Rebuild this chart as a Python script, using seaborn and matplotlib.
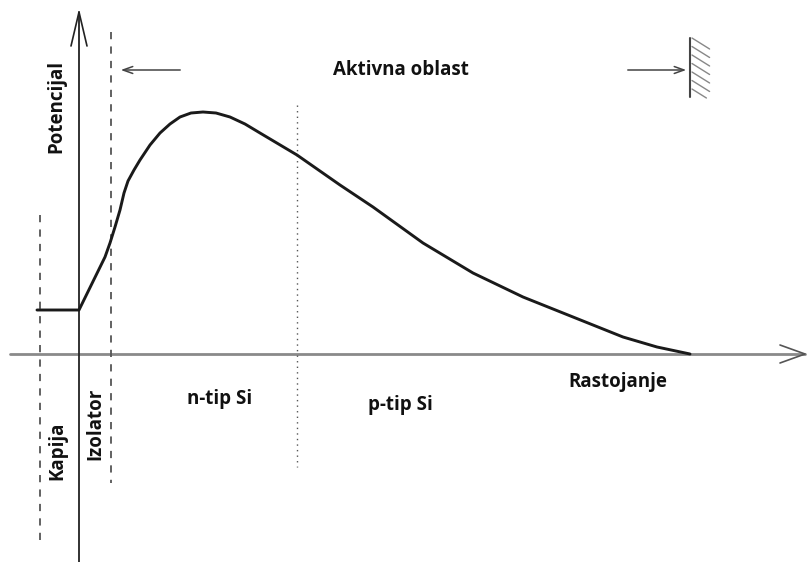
import numpy as np
import pandas as pd
import seaborn as sns
import matplotlib.pyplot as plt

# potential curve (pixel coordinates, y grows downward)
curve_x = [37, 79, 105, 110, 115, 120, 124, 128, 134, 140, 150, 160, 170, 180,
           191, 203, 216, 230, 245, 260, 297, 340, 373, 423, 473, 523, 573,
           623, 657, 690]
curve_y = [310, 310, 257, 243, 227, 210, 193, 181, 170, 160, 145, 133, 124, 117,
           113, 112, 113, 117, 124, 133, 155, 185, 207, 243, 273, 297, 317,
           337, 347, 354]

# region borders
border_x = [40, 111, 297]
border_top = [215, 32, 105]
border_bottom = [547, 483, 467]
border_style = [(0, (4, 4)), (0, (4, 4)), (0, (1, 3))]

# labels
labels = ['Aktivna oblast', 'n-tip Si', 'p-tip Si', 'Rastojanje']
label_x = [401, 220, 400, 618]
label_y = [70, 399, 405, 382]
vlabels = ['Potencijal', 'Kapija', 'Izolator']
vlabel_x = [56, 57, 95]
vlabel_y = [106, 451, 424]

origin_x, origin_y = 79, 354

sns.set_style('white')
plt.rcParams['font.family'] = ['Open Sans', 'DejaVu Sans']

fig = plt.figure(figsize=(8.07, 5.62), dpi=100)
ax = fig.add_axes([0, 0, 1, 1])

# axes of the diagram
ax.plot([10, 805], [origin_y, origin_y], color='#8a8a8a', lw=2)
ax.plot([780, 805, 780], [345, origin_y, 363], color='#555555', lw=1.2)
ax.plot([origin_x, origin_x], [12, 562], color='#222222', lw=1.3)
ax.plot([71, origin_x, 87], [46, 12, 46], color='#222222', lw=1.2)

# borders
for bx, bt, bb, ls in zip(border_x, border_top, border_bottom, border_style):
    ax.plot([bx, bx], [bt, bb], color='#555555', lw=1.3 if ls[1][0] > 1 else 1.0,
            linestyle=ls)

# curve
df = pd.DataFrame({'x': curve_x, 'y': curve_y})
sns.lineplot(data=df, x='x', y='y', ax=ax, color='#1a1a1a', lw=2.1, sort=False)
ax.set_xlim(0, 807)
ax.set_ylim(562, 0)
ax.axis('off')

# active region arrows and wall
ax.annotate('', xy=(118, 70), xytext=(183, 70),
            arrowprops=dict(arrowstyle='->,head_length=0.7,head_width=0.25',
                            color='#444444', lw=1.1))
ax.annotate('', xy=(689, 70), xytext=(625, 70),
            arrowprops=dict(arrowstyle='->,head_length=0.7,head_width=0.25',
                            color='#444444', lw=1.1))
ax.plot([690, 690], [38, 97], color='#444444', lw=1.5)
for yy in np.arange(38, 95, 8.5):
    y1 = min(yy + 11, 98)
    ax.plot([692, 692 + (y1 - yy) * 1.6], [yy, y1], color='#888888', lw=1.0)

for t, x, y in zip(labels, label_x, label_y):
    ax.text(x, y, t, ha='center', va='center', fontsize=13.5, fontweight='bold',
            color='#111111')
for t, x, y in zip(vlabels, vlabel_x, vlabel_y):
    ax.text(x, y, t, ha='center', va='center', fontsize=13.5, fontweight='bold',
            rotation=90, color='#111111')

fig.savefig('out.png', dpi=100, facecolor='white')
